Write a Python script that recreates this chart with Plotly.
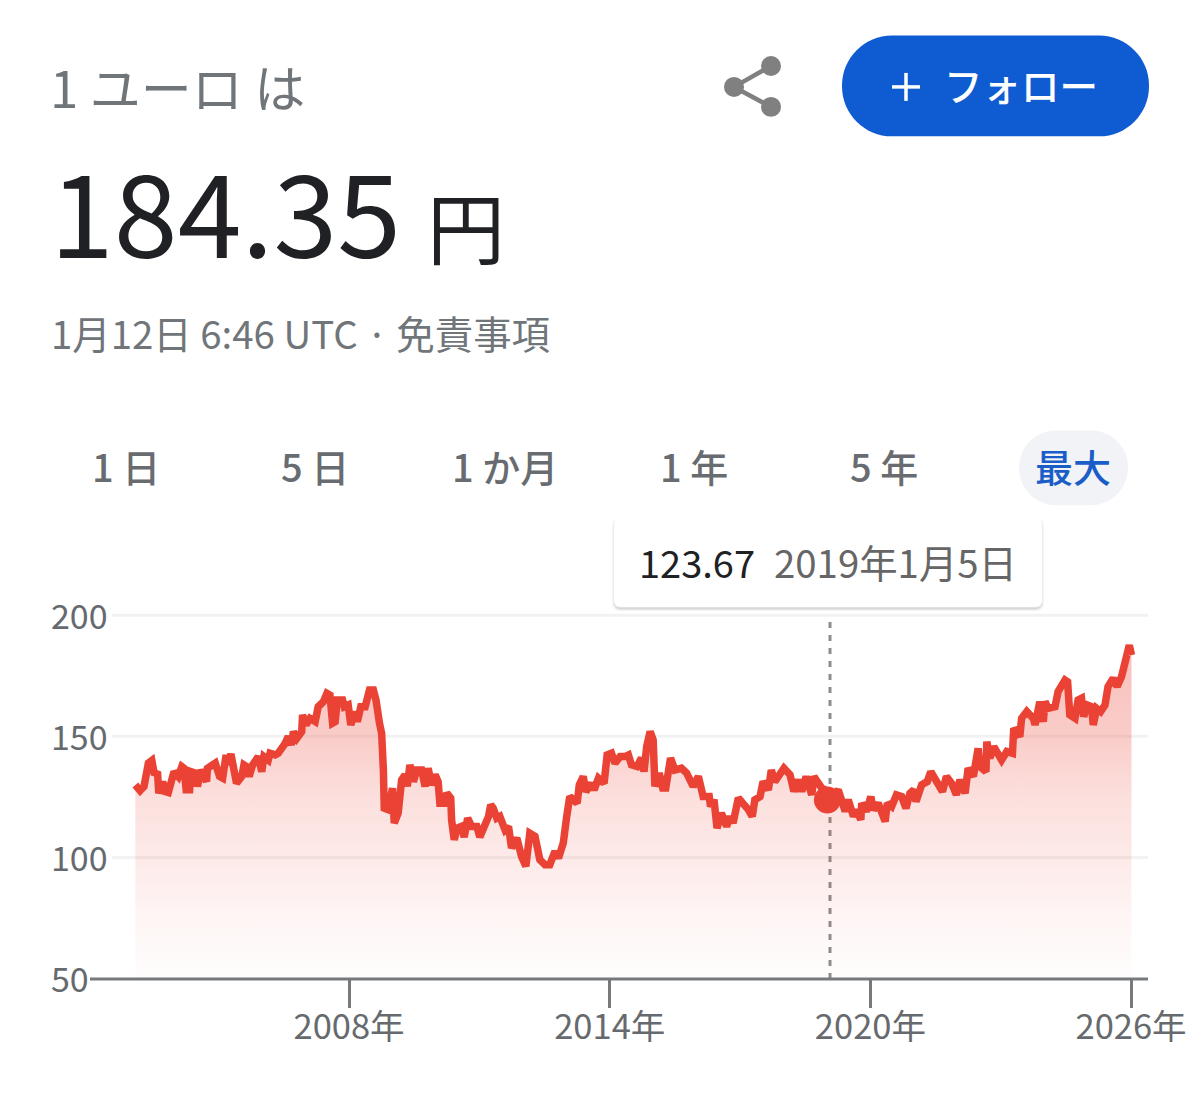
import plotly.graph_objects as go

years = [
 2003.08,2003.19,2003.28,2003.38,2003.46,2003.52,2003.59,2003.62,2003.71,2003.77,2003.84,2003.90,2003.97,2004.07,2004.15,2004.20,2004.25,2004.33,2004.36,2004.46,
 2004.51,2004.59,2004.72,2004.74,2004.92,2005.02,2005.09,2005.17,2005.22,2005.28,2005.38,2005.41,2005.53,2005.58,2005.64,2005.70,2005.78,2005.91,2005.99,2006.04,
 2006.14,2006.18,2006.30,2006.37,2006.53,2006.60,2006.67,2006.72,2006.80,2006.91,2006.93,2007.01,2007.10,2007.22,2007.29,2007.41,2007.49,2007.56,2007.62,2007.68,
 2007.73,2007.85,2007.89,2007.98,2008.04,2008.14,2008.19,2008.27,2008.37,2008.47,2008.56,2008.62,2008.70,2008.75,2008.79,2008.81,2008.90,2009.00,2009.04,2009.13,
 2009.21,2009.29,2009.34,2009.40,2009.48,2009.56,2009.67,2009.75,2009.82,2009.90,2009.98,2010.05,2010.09,2010.19,2010.25,2010.34,2010.36,2010.42,2010.49,2010.59,
 2010.65,2010.73,2010.82,2010.94,2011.01,2011.11,2011.21,2011.26,2011.32,2011.40,
 2011.47,2011.59,2011.67,2011.74,2011.86,2011.97,2012.07,2012.16,2012.28,2012.39,2012.51,2012.62,2012.74,2012.82,2012.93,2013.01,2013.08,2013.25,2013.30,2013.39,
 2013.45,2013.58,2013.64,2013.74,2013.87,2013.94,2014.04,2014.12,2014.24,2014.35,2014.43,2014.50,2014.63,2014.73,2014.79,2014.85,2014.93,2015.00,2015.04,2015.14,
 2015.22,2015.29,2015.40,2015.50,2015.65,2015.77,2015.92,2016.04,2016.15,2016.29,2016.32,2016.40,2016.47,2016.57,2016.69,2016.77,2016.84,2016.96,2017.07,2017.19,
 2017.28,2017.34,2017.46,2017.53,2017.65,2017.72,2017.80,2018.01,2018.15,2018.24,2018.34,2018.42,2018.52,2018.65,2018.70,2018.88,2019.03,2019.14,2019.26,
 2019.42,2019.49,2019.61,2019.68,2019.78,2019.80,2019.91,2020.01,2020.07,2020.18,2020.34,2020.39,2020.49,2020.60,2020.72,2020.82,2020.91,2021.00,2021.05,2021.18,
 2021.31,2021.39,2021.52,2021.66,2021.75,2021.87,2021.98,2022.06,2022.18,2022.25,2022.37,2022.48,2022.52,2022.66,2022.68,2022.75,2022.84,2023.02,2023.14,2023.27,
 2023.30,2023.44,2023.48,2023.60,2023.75,2023.79,2023.90,2023.98,2024.02,2024.09,2024.25,2024.32,2024.48,2024.54,2024.59,2024.71,2024.78,2024.86,2024.91,2024.99,
 2025.09,2025.13,2025.21,2025.30,2025.40,2025.47,2025.59,2025.68,2025.78,2025.86,2025.96,2026.01,
]
rates = [
 129.9,127.6,129.3,138.9,140.0,134.1,135.4,126.5,131.3,127.2,126.8,131.3,135.4,133.4,137.5,136.8,127.9,127.9,135.4,134.8,
 129.3,136.1,131.3,136.8,138.9,133.4,132.7,142.3,138.2,142.7,134.1,130.6,133.4,138.2,137.5,133.4,138.2,141.6,135.4,141.6,
 140.2,143.0,142.3,143.0,147.1,149.9,146.4,151.9,149.2,151.9,158.8,154.7,157.4,156.1,162.2,164.3,167.7,167.0,155.4,156.0,
 165.0,165.0,162.2,162.9,154.7,160.2,156.0,162.2,162.2,169.1,169.1,165.0,155.4,151.2,136.1,120.3,119.7,128.6,114.2,118.3,
 132.0,134.1,129.3,138.2,131.3,136.1,136.1,129.3,136.8,129.9,134.1,131.3,122.4,122.4,126.5,124.5,115.5,107.3,112.1,112.8,
 108.4,116.2,112.8,112.8,108.4,112.8,116.9,121.7,120.3,116.2,
 116.9,111.4,112.8,103.9,108.0,100.4,96.3,110.0,108.7,99.1,97.0,97.0,102.5,99.7,105.9,116.9,125.1,122.4,130.0,133.4,
 127.2,130.6,127.9,132.7,130.6,142.3,143.0,138.9,141.6,141.6,142.3,138.2,137.5,141.0,135.4,145.7,151.9,148.5,129.3,134.8,
 128.6,128.6,141.0,136.1,136.8,134.8,129.3,133.4,125.1,125.1,121.0,123.8,112.1,118.3,112.8,116.9,114.2,124.5,122.4,119.7,
 116.9,123.8,125.1,131.3,127.9,136.1,131.3,136.8,134.1,127.2,132.0,127.2,133.4,125.8,133.4,128.6,127.2,125.1,127.9,
 119.0,123.8,116.9,119.6,115.5,122.4,119.0,125.1,119.6,122.4,114.8,122.4,121.0,125.8,125.1,120.3,126.5,127.9,123.1,130.0,
 131.3,135.4,131.3,127.2,133.4,130.6,125.8,132.0,126.5,136.8,133.4,145.0,137.5,135.4,147.8,141.0,145.7,140.2,143.7,143.0,
 153.3,149.9,157.4,160.2,157.4,154.7,164.3,156.0,164.3,161.5,162.2,168.4,173.2,172.5,158.8,157.4,165.0,165.7,158.1,162.9,
 162.2,154.7,161.5,160.2,162.9,170.5,173.9,170.5,174.6,180.8,187.6,183.5,
]
baseline = [50] * len(years)
marker_year = [2019.01]
marker_rate = [123.67]
x_ticks = [2008, 2014, 2020, 2026]
x_labels = ["2008年", "2014年", "2020年", "2026年"]
y_ticks = [50, 100, 150, 200]
y_labels = ["50", "100", "150", "200"]
tabs = ["1 日", "5 日", "1 か月", "1 年", "5 年", "最大"]

FONT = "Noto Sans CJK JP"
RED = "#ea4335"
AXIS = "#777a7d"
TEXT = "#666a6e"
L, R, T, B = 48, 1148, 493.7, 1027.5
AXIS_Y = 979.5

def px(v):
    return (v - L) / (R - L)

def py(v):
    return (B - v) / (B - T)

def round_rect(x0, y0, x1, y1, r):
    X, Y = px, py
    k = r * 0.45
    return (f"M{X(x0+r)},{Y(y0)} L{X(x1-r)},{Y(y0)} C{X(x1-k)},{Y(y0)} {X(x1)},{Y(y0+k)} {X(x1)},{Y(y0+r)} "
            f"L{X(x1)},{Y(y1-r)} C{X(x1)},{Y(y1-k)} {X(x1-k)},{Y(y1)} {X(x1-r)},{Y(y1)} "
            f"L{X(x0+r)},{Y(y1)} C{X(x0+k)},{Y(y1)} {X(x0)},{Y(y1-k)} {X(x0)},{Y(y1-r)} "
            f"L{X(x0)},{Y(y0+r)} C{X(x0)},{Y(y0+k)} {X(x0+k)},{Y(y0)} {X(x0+r)},{Y(y0)} Z")

fig = go.Figure()
fig.add_trace(go.Scatter(x=years, y=baseline, mode="lines", line=dict(width=0),
                         hoverinfo="skip", showlegend=False))
fig.add_trace(go.Scatter(
    x=years, y=rates, mode="lines", line=dict(color=RED, width=7.5), fill="tonexty",
    fillgradient=dict(type="vertical", start=50, stop=187,
                      colorscale=[[0, "rgba(234,67,53,0.01)"], [0.18, "rgba(234,67,53,0.05)"],
                                  [0.36, "rgba(234,67,53,0.11)"], [0.55, "rgba(234,67,53,0.17)"],
                                  [0.73, "rgba(234,67,53,0.27)"], [1, "rgba(234,67,53,0.33)"]]),
    hoverinfo="skip", showlegend=False))
fig.add_trace(go.Scatter(
    x=marker_year, y=marker_rate, mode="markers", marker=dict(color=RED, size=27),
    hoverinfo="skip", showlegend=False))

shapes = []
for g in y_ticks[1:]:
    shapes.append(dict(type="line", xref="paper", yref="y", x0=px(112), x1=1, y0=g, y1=g,
                       line=dict(color="#f2f2f2", width=3), layer="below"))
shapes.append(dict(type="line", xref="paper", yref="paper", x0=px(830), x1=px(830), y0=py(AXIS_Y), y1=py(616),
                   line=dict(color="#8d8d8d", width=3, dash="6px,7px"), layer="below"))
shapes.append(dict(type="line", xref="paper", yref="paper", x0=px(90), x1=1, y0=py(AXIS_Y), y1=py(AXIS_Y),
                   line=dict(color=AXIS, width=3)))
for i, a in enumerate([0.03, 0.05, 0.08]):
    d = 3 - i
    shapes.append(dict(type="path", xref="paper", yref="paper", line=dict(width=0),
                       fillcolor=f"rgba(0,0,0,{a})",
                       path=round_rect(614 - d + 1, 518 - d + 3, 1042 + d - 1, 607 + d + 1, 7)))
shapes.append(dict(type="path", xref="paper", yref="paper", line=dict(width=0), fillcolor="white",
                   path=round_rect(614, 518, 1042, 607, 6)))
shapes.append(dict(type="path", xref="paper", yref="paper", line=dict(width=0), fillcolor="#f1f3f6",
                   path=round_rect(1019, 430, 1128, 505, 37)))
shapes.append(dict(type="path", xref="paper", yref="paper", line=dict(width=0), fillcolor="#0f5bd1",
                   path=round_rect(842, 34.5, 1149, 135.5, 50)))
shapes.append(dict(type="line", xref="paper", yref="paper", x0=px(892), x1=px(920), y0=py(86), y1=py(86),
                   line=dict(color="white", width=3.5)))
shapes.append(dict(type="line", xref="paper", yref="paper", x0=px(906), x1=px(906), y0=py(72), y1=py(100),
                   line=dict(color="white", width=3.5)))
for x1, y1 in [(771, 65), (771, 106)]:
    shapes.append(dict(type="line", xref="paper", yref="paper", x0=px(734), x1=px(x1), y0=py(86), y1=py(y1),
                       line=dict(color="#808080", width=4.5)))
for cx, cy in [(734, 86), (771, 65), (771, 106)]:
    shapes.append(dict(type="circle", xref="paper", yref="paper", x0=px(cx - 10), x1=px(cx + 10),
                       y0=py(cy - 10), y1=py(cy + 10), fillcolor="#808080", line=dict(width=0)))

def note(text, x, y, size, color, anchor="left", weight=400):
    return dict(text=text, xref="paper", yref="paper", x=px(x), y=py(y), showarrow=False,
                xanchor=anchor, yanchor="middle", font=dict(family=FONT, size=size, color=color, weight=weight),
                align=anchor)

annotations = [
    note("1 ユーロ は", 48, 85, 51, "#70757a"),
    note("184.35", 48, 207, 115, "#202124"),
    note("円", 425, 224, 78, "#202124"),
    note("1月12日 6:46 UTC · 免責事項", 49, 331, 38.4, "#70757a"),
    note("フォロー", 942, 83, 38.5, "white", weight=500),
    note("123.67", 637, 561, 38, "#202124"),
    note("2019年1月5日", 772, 561, 38.4, "#666666"),
]
for label, cx in zip(tabs, [126, 315, 505, 694, 884, 1073]):
    annotations.append(note(label, cx, 465, 38, "#1a5dc8" if label == "最大" else "#686c70", "center", 500))

fig.update_layout(
    width=1200, height=1094, autosize=False,
    margin=dict(l=L, r=1200 - R, t=T, b=1094 - B),
    paper_bgcolor="white", plot_bgcolor="white", showlegend=False,
    font=dict(family=FONT, color=TEXT, size=34),
    xaxis=dict(range=[2001.07, 2026.39], tickmode="array", tickvals=x_ticks, ticktext=x_labels,
               anchor="free", position=py(AXIS_Y),
               ticks="outside", ticklen=28, tickwidth=3, tickcolor=AXIS, showgrid=False, zeroline=False,
               showline=False, ticklabelstandoff=-10, tickfont=dict(family=FONT, size=34.5, color=TEXT)),
    yaxis=dict(range=[30, 250], tickmode="array", tickvals=y_ticks, ticktext=y_labels,
               ticklabelposition="inside", ticklabelshift=2, ticks="", showgrid=False, zeroline=False, showline=False,
               tickfont=dict(family=FONT, size=34, color=TEXT)),
    shapes=shapes, annotations=annotations,
)
fig.write_html("out.html", config={"displayModeBar": False}, post_script="document.body.style.margin='0';")
